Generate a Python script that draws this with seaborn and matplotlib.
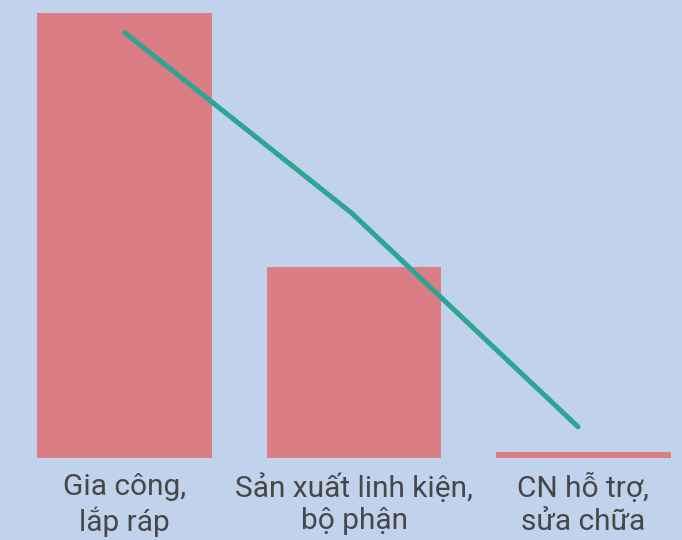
"""
Bar + line chart: Gia công / Sản xuất linh kiện / CN hỗ trợ.
"""
import numpy as np
import pandas as pd
import matplotlib
matplotlib.use('Agg')
import matplotlib.pyplot as plt
import seaborn as sns

categories = ['Gia công,\nlắp ráp', 'Sản xuất linh kiện,\nbộ phận', 'CN hỗ trợ,\nsửa chữa']
bar_vals = [100.0, 42.9, 1.2]
line_vals = [95.5, 55.0, 6.9]

bg = '#c1d3ec'
barcolor = '#db7d84'
linecolor = '#2ca594'

df = pd.DataFrame({'cat': categories, 'bar': bar_vals, 'line': line_vals})

sns.set_style('white')
plt.rcParams['font.family'] = ['Roboto', 'DejaVu Sans']

fig = plt.figure(figsize=(6.82, 5.40), dpi=100, facecolor=bg)
ax = fig.add_axes([0, 82.5/540, 1, 457.5/540])
ax.set_facecolor(bg)

sns.barplot(data=df, x='cat', y='bar', color=barcolor, saturation=1,
            width=0.7625, errorbar=None, linewidth=0, ax=ax)

# line sits on its own x scale (slightly tighter spacing than the bars)
ax2 = ax.twiny()
sns.pointplot(data=df, x='cat', y='line', color=linecolor, marker='',
              linewidth=3.6, errorbar=None, ax=ax2)
ax2.set_xlim(-125/226.5, 557/226.5)
ax2.set_xticks([])
ax2.set_xlabel('')
ax2.set_ylabel('')

ax.set_xlim(-0.5425, 2.4292)
ax.set_ylim(0, 102.9)
ax.set_xlabel('')
ax.set_ylabel('')
ax.set_yticks([])
ax.tick_params(axis='x', length=0, pad=11, labelsize=21.5, labelcolor='#474747')
for lab in ax.get_xticklabels():
    lab.set_linespacing(1.22)
for a in (ax, ax2):
    for s in a.spines.values():
        s.set_visible(False)

fig.savefig('out.png', dpi=100, facecolor=bg)
